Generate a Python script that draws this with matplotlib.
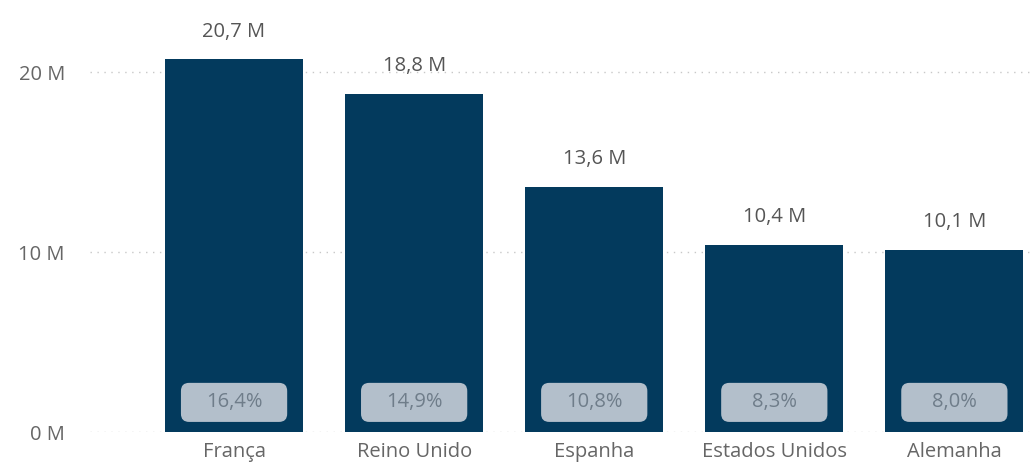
import matplotlib
matplotlib.use("Agg")
import matplotlib.pyplot as plt
from matplotlib.patches import FancyBboxPatch

categories = ["França", "Reino Unido", "Espanha", "Estados Unidos", "Alemanha"]
values_m = [20.7, 18.8, 13.6, 10.4, 10.1]
value_labels = ["20,7 M", "18,8 M", "13,6 M", "10,4 M", "10,1 M"]
share_labels = ["16,4%", "14,9%", "10,8%", "8,3%", "8,0%"]
yticks = [0, 10, 20]
ytick_labels = ["0 M", "10 M", "20 M"]

plt.rcParams['font.family'] = ['Open Sans', 'DejaVu Sans']

fig = plt.figure(figsize=(10.3, 4.69), dpi=100)
ax = fig.add_axes([90/1030, 37/469, 940/1030, 432/469])

bar_color = "#033a5d"
text_color = "#666666"
fs = 14.5

x = list(range(len(categories)))
ax.bar(x, values_m, width=0.767, color=bar_color, zorder=2)

for i, v in enumerate(values_m):
    ax.text(i, v + 1.55, value_labels[i], ha='center', va='center',
            fontsize=fs, color="#555555", zorder=4)
    bw = 0.59
    bh = 2.17
    box = FancyBboxPatch((i - bw/2, 0.56), bw, bh,
                         boxstyle="round,pad=0,rounding_size=0.045",
                         mutation_aspect=10,
                         facecolor="#b3bfcb", edgecolor="none", zorder=3)
    ax.add_patch(box)
    ax.text(i, 0.56 + bh/2, share_labels[i], ha='center', va='center',
            fontsize=fs, color="#6f7d8a", zorder=4)

ax.set_xlim(-0.8, 4.42)
ax.set_ylim(0, 24)
ax.set_yticks(yticks)
ax.set_yticklabels(ytick_labels)
ax.set_xticks(x)
ax.set_xticklabels(categories)
ax.tick_params(axis='both', length=0, labelsize=fs, labelcolor=text_color)
ax.tick_params(axis='y', pad=18)
ax.tick_params(axis='x', pad=7)

for y in yticks:
    ax.axhline(y, color="#c8c8c8", linestyle=(0, (1, 4)), linewidth=1, zorder=1)

for s in ax.spines.values():
    s.set_visible(False)

fig.savefig("out.png", dpi=100)
